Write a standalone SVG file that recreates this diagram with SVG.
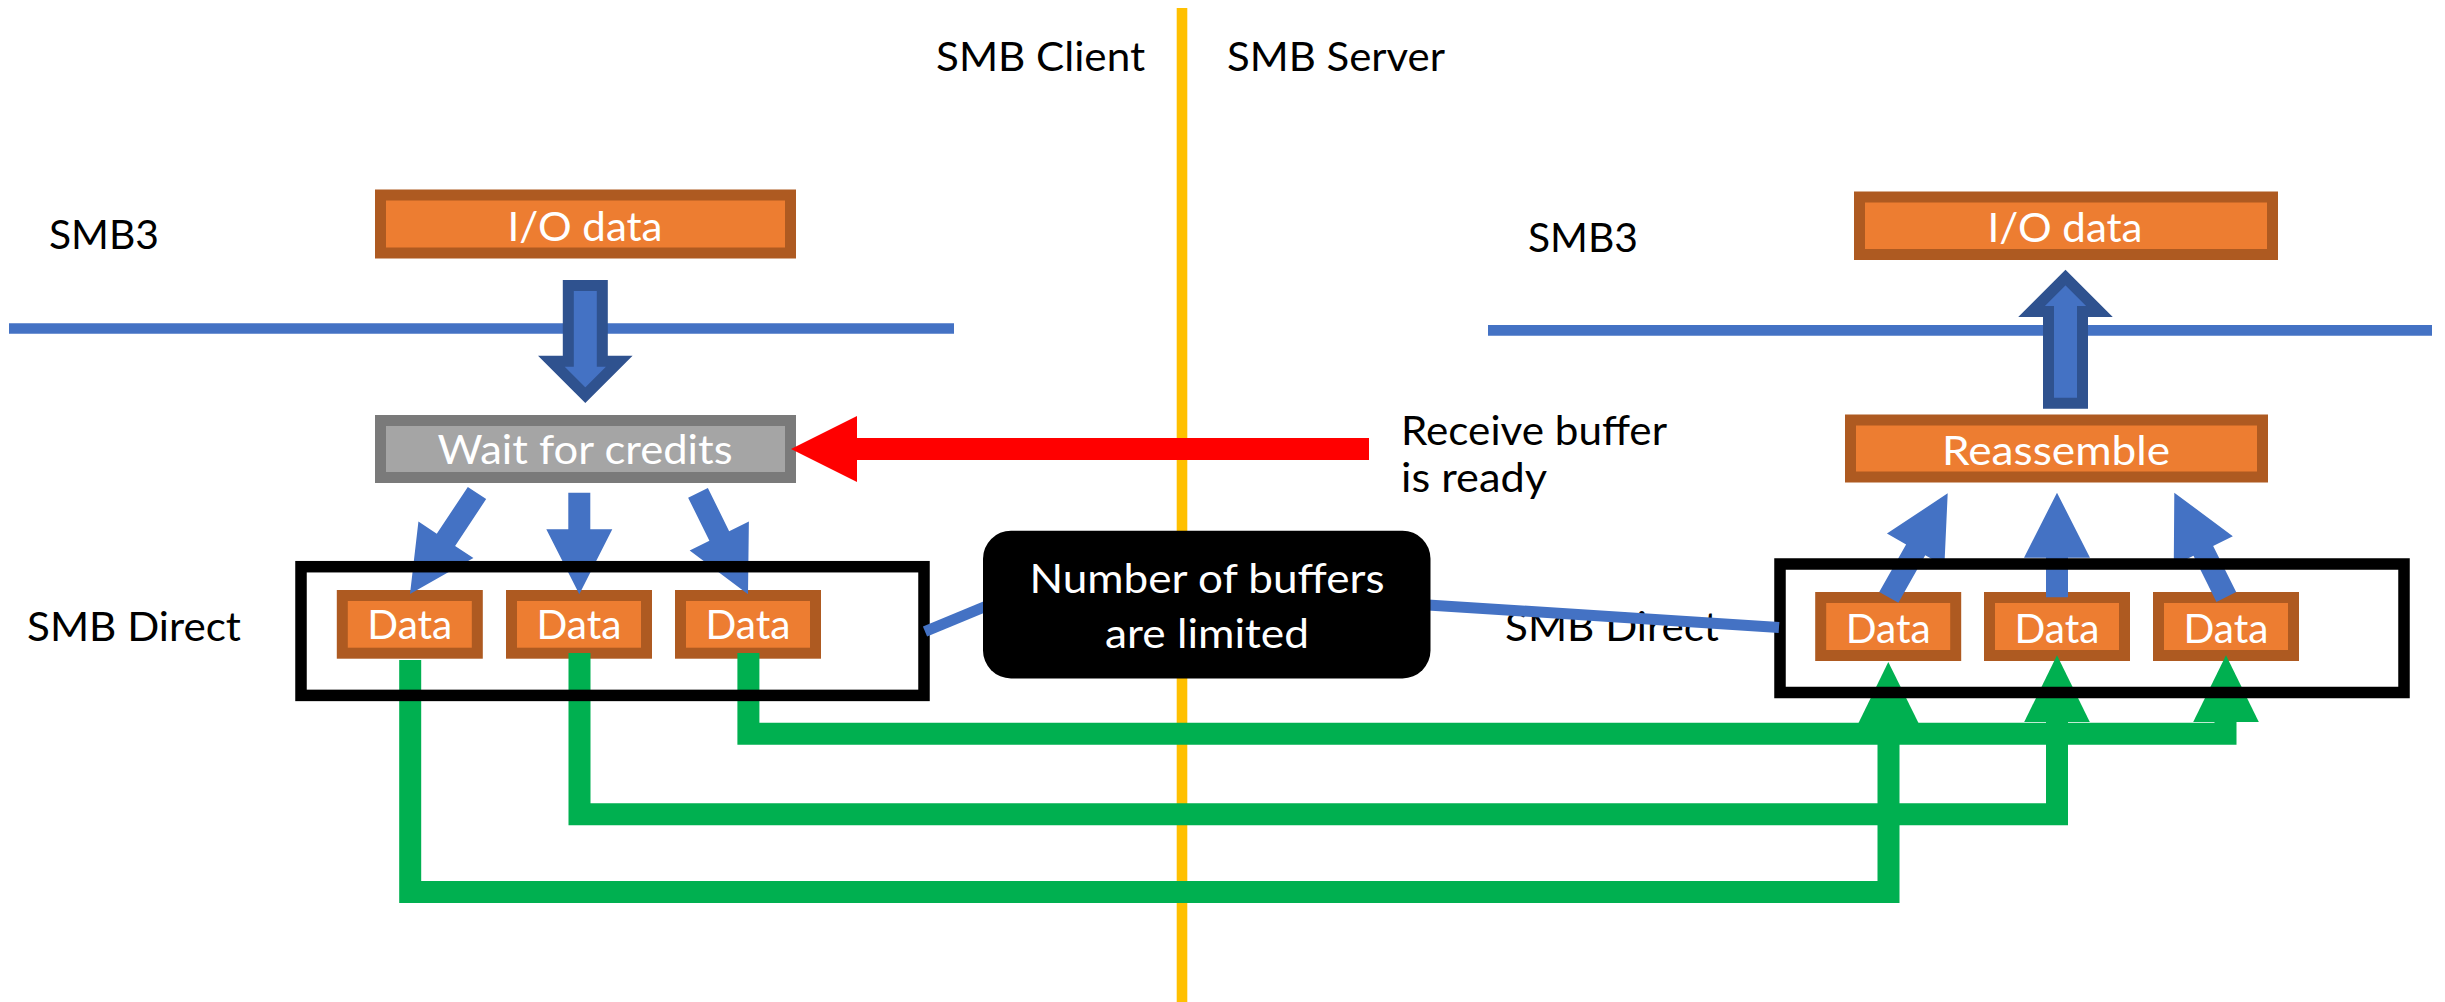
<svg xmlns="http://www.w3.org/2000/svg" width="2445" height="1002" viewBox="0 0 2445 1002">
  <style>
    text { font-family: Lato, "Open Sans", "Liberation Sans", sans-serif; font-size: 40px; }
    .lbl { fill: #000000; }
    .wt { fill: #FFFFFF; text-anchor: middle; }
    .orange { fill: #ED7D31; stroke: #AE5A21; stroke-width: 11; }
    .gray { fill: #A5A5A5; stroke: #7A7A7A; stroke-width: 11; }
    .frame { fill: none; stroke: #000000; stroke-width: 11.5; }
    .layer { stroke: #4472C4; stroke-width: 10.7; fill: none; }
    .bigarrow { fill: #4472C4; stroke: #2F528F; stroke-width: 11; stroke-linejoin: miter; }
    .blk { fill: #4472C4; }
    .green { fill: none; stroke: #00B050; stroke-width: 22; stroke-linejoin: miter; stroke-linecap: butt; }
    .ghead { fill: #00B050; }
    .link { stroke: #4472C4; stroke-width: 11; fill: none; }
  </style>

  <!-- client / server divider -->
  <line x1="1182" y1="8" x2="1182" y2="1002" stroke="#FFC000" stroke-width="10.6"/>

  <!-- side and layer labels -->
  <g id="labels">
    <text class="lbl" x="936" y="71" textLength="209" lengthAdjust="spacingAndGlyphs">SMB Client</text>
    <text class="lbl" x="1227" y="71" textLength="218" lengthAdjust="spacingAndGlyphs">SMB Server</text>
    <text class="lbl" x="49" y="249" textLength="110" lengthAdjust="spacingAndGlyphs">SMB3</text>
    <text class="lbl" x="1528" y="252" textLength="110" lengthAdjust="spacingAndGlyphs">SMB3</text>
    <text class="lbl" x="27" y="641" textLength="214" lengthAdjust="spacingAndGlyphs">SMB Direct</text>
    <text class="lbl" x="1505" y="641" textLength="214" lengthAdjust="spacingAndGlyphs">SMB Direct</text>
    <text class="lbl" x="1401" y="445" textLength="266" lengthAdjust="spacingAndGlyphs">Receive buffer</text>
    <text class="lbl" x="1401" y="492" textLength="146" lengthAdjust="spacingAndGlyphs">is ready</text>
  </g>

  <!-- SMB3 / SMB Direct layer boundaries -->
  <line class="layer" x1="9" y1="328.5" x2="954" y2="328.5"/>
  <line class="layer" x1="1488" y1="330.3" x2="2432" y2="330.3"/>

  <!-- client side -->
  <g id="client-io">
    <rect class="orange" x="380.5" y="195" width="410" height="58"/>
    <text class="wt" x="585" y="240.7" textLength="155" lengthAdjust="spacingAndGlyphs">I/O data</text>
  </g>
  <g id="client-wait">
    <rect class="gray" x="380.5" y="420.5" width="410" height="57"/>
    <text class="wt" x="585" y="464" textLength="295" lengthAdjust="spacingAndGlyphs">Wait for credits</text>
  </g>
  <g id="client-data-1">
    <rect class="orange" x="342.3" y="595.5" width="135" height="57.7"/>
    <text class="wt" x="409.8" y="639.3" textLength="85" lengthAdjust="spacingAndGlyphs">Data</text>
  </g>
  <g id="client-data-2">
    <rect class="orange" x="511.5" y="595.5" width="135" height="57.7"/>
    <text class="wt" x="579" y="639.3" textLength="85" lengthAdjust="spacingAndGlyphs">Data</text>
  </g>
  <g id="client-data-3">
    <rect class="orange" x="680.5" y="595.5" width="135" height="57.7"/>
    <text class="wt" x="748" y="639.3" textLength="85" lengthAdjust="spacingAndGlyphs">Data</text>
  </g>

  <!-- server side -->
  <g id="server-io">
    <rect class="orange" x="1859.5" y="197" width="413" height="57.5"/>
    <text class="wt" x="2065" y="242.3" textLength="155" lengthAdjust="spacingAndGlyphs">I/O data</text>
  </g>
  <g id="server-reassemble">
    <rect class="orange" x="1850.5" y="420" width="412" height="57"/>
    <text class="wt" x="2056" y="464.7" textLength="228" lengthAdjust="spacingAndGlyphs">Reassemble</text>
  </g>
  <g id="server-data-1">
    <rect class="orange" x="1820.7" y="597.5" width="135" height="58"/>
    <text class="wt" x="1888.2" y="642.7" textLength="85" lengthAdjust="spacingAndGlyphs">Data</text>
  </g>
  <g id="server-data-2">
    <rect class="orange" x="1989.5" y="597.5" width="135" height="58"/>
    <text class="wt" x="2057" y="642.7" textLength="85" lengthAdjust="spacingAndGlyphs">Data</text>
  </g>
  <g id="server-data-3">
    <rect class="orange" x="2158.5" y="597.5" width="135" height="58"/>
    <text class="wt" x="2226" y="642.7" textLength="85" lengthAdjust="spacingAndGlyphs">Data</text>
  </g>

  <g id="connectors">
    <!-- layer crossings -->
    <polygon class="bigarrow" points="568.3,285.5 602.3,285.5 602.3,361.2 619.3,361.2 585.3,395.2 551.3,361.2 568.3,361.2"/>
    <polygon class="bigarrow" points="2048.5,403.2 2082.5,403.2 2082.5,311.5 2099.5,311.5 2065.5,277.5 2031.5,311.5 2048.5,311.5"/>

    <!-- credits fan-out -->
    <polygon class="blk" points="467.83,486.92 436.76,533.75 418.43,521.59 410,594 473.43,558.07 455.10,545.91 486.17,499.08"/>
    <polygon class="blk" points="568.3,492.7 568.3,529.3 546.3,529.3 579.3,594.3 612.3,529.3 590.3,529.3 590.3,492.7"/>
    <polygon class="blk" points="688.13,497.66 709.41,540.85 689.68,550.57 748,594.3 748.88,521.41 729.15,531.13 707.87,487.94"/>

    <!-- reassembly fan-in -->
    <polygon class="blk" points="1898.37,602.72 1925.24,555.28 1944.38,566.12 1947.7,493.3 1886.96,533.60 1906.10,544.44 1879.23,591.88"/>
    <polygon class="blk" points="2046,597.3 2046,557.7 2024,557.7 2057,492.7 2090,557.7 2068,557.7 2068,597.3"/>
    <polygon class="blk" points="2236.15,592.09 2213.15,545.96 2232.84,536.15 2174.3,492.7 2173.77,565.59 2193.46,555.78 2216.46,601.91"/>

    <!-- credit signal -->
    <polygon fill="#FF0000" points="1369,438 857,438 857,416 791,449 857,482 857,460 1369,460"/>

    <!-- RDMA transfers -->
    <path class="green" d="M410.2,660 V892 H1888.5 V722.7"/>
    <polygon class="ghead" points="1858.5,723 1918.5,723 1888.3,662"/>
    <path class="green" d="M579.5,653 V814.3 H2057 V722"/>
    <polygon class="ghead" points="2024.2,722 2089.8,722 2057,655.3"/>
    <path class="green" d="M748.4,653 V733.7 H2225.5 V722"/>
    <polygon class="ghead" points="2193.2,722 2258.8,722 2226,655.3"/>
  </g>

  <!-- SMB Direct buffer pools -->
  <g id="client-pool">
    <rect class="frame" x="301" y="566.7" width="623" height="128.7"/>
  </g>
  <g id="server-pool">
    <rect class="frame" x="1780" y="564" width="624" height="128.5"/>
  </g>

  <!-- callout leaders -->
  <g id="callout-links">
    <line class="link" x1="925" y1="631.5" x2="995" y2="602.5"/>
    <line class="link" x1="1420" y1="604.4" x2="1779" y2="627.4"/>
  </g>

  <g id="callout">
    <rect x="983" y="530.7" width="447.5" height="147.7" rx="28" ry="28" fill="#000000"/>
    <text class="wt" x="1207" y="592.7" textLength="355" lengthAdjust="spacingAndGlyphs">Number of buffers</text>
    <text class="wt" x="1207" y="647.7" textLength="204" lengthAdjust="spacingAndGlyphs">are limited</text>
  </g>
</svg>
